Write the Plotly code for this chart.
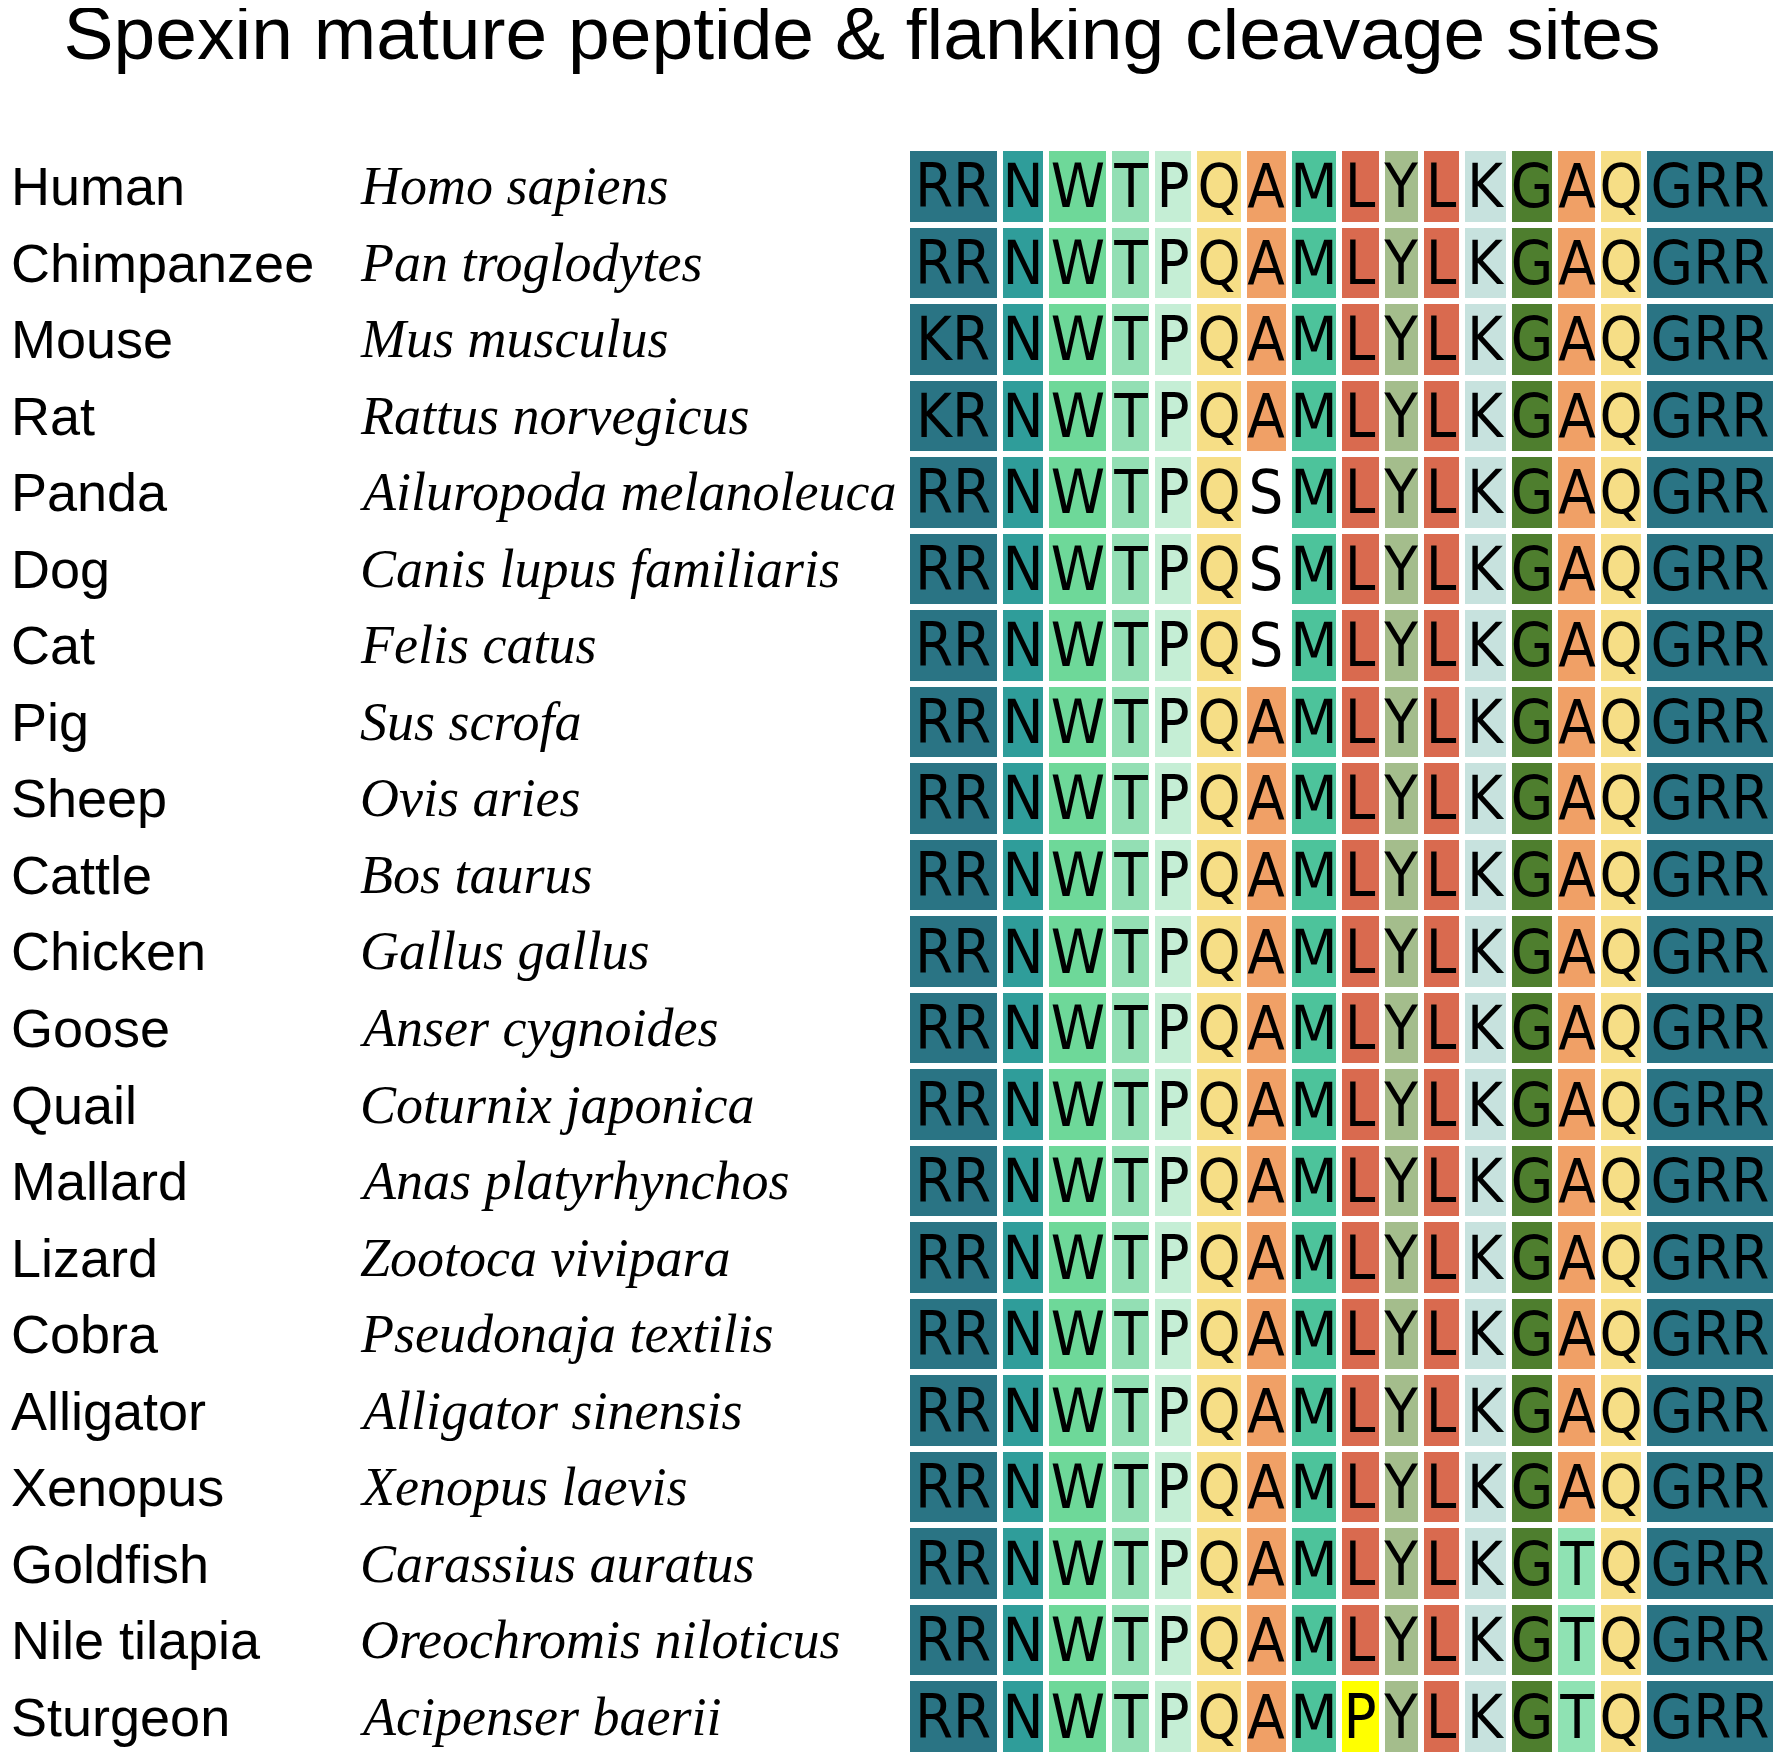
import numpy as np
import plotly.graph_objects as go

# species rows, top to bottom
COMMON = ["Human", "Chimpanzee", "Mouse", "Rat", "Panda", "Dog", "Cat", "Pig",
          "Sheep", "Cattle", "Chicken", "Goose", "Quail", "Mallard", "Lizard",
          "Cobra", "Alligator", "Xenopus", "Goldfish", "Nile tilapia", "Sturgeon"]
SCIENTIFIC = ["Homo sapiens", "Pan troglodytes", "Mus musculus", "Rattus norvegicus",
              "Ailuropoda melanoleuca", "Canis lupus familiaris", "Felis catus",
              "Sus scrofa", "Ovis aries", "Bos taurus", "Gallus gallus",
              "Anser cygnoides", "Coturnix japonica", "Anas platyrhynchos",
              "Zootoca vivipara", "Pseudonaja textilis", "Alligator sinensis",
              "Xenopus laevis", "Carassius auratus", "Oreochromis niloticus",
              "Acipenser baerii"]
N_FLANK = ["RR", "RR", "KR", "KR", "RR", "RR", "RR", "RR", "RR", "RR", "RR",
           "RR", "RR", "RR", "RR", "RR", "RR", "RR", "RR", "RR", "RR"]
CORE = ["NWTPQAMLYLKGAQ", "NWTPQAMLYLKGAQ", "NWTPQAMLYLKGAQ", "NWTPQAMLYLKGAQ",
        "NWTPQSMLYLKGAQ", "NWTPQSMLYLKGAQ", "NWTPQSMLYLKGAQ", "NWTPQAMLYLKGAQ",
        "NWTPQAMLYLKGAQ", "NWTPQAMLYLKGAQ", "NWTPQAMLYLKGAQ", "NWTPQAMLYLKGAQ",
        "NWTPQAMLYLKGAQ", "NWTPQAMLYLKGAQ", "NWTPQAMLYLKGAQ", "NWTPQAMLYLKGAQ",
        "NWTPQAMLYLKGAQ", "NWTPQAMLYLKGAQ", "NWTPQAMLYLKGTQ", "NWTPQAMLYLKGTQ",
        "NWTPQAMPYLKGTQ"]
C_FLANK = ["GRR"] * 21

# colours
FLANK_COLOR = "#2a7484"
COLUMN_COLORS = ["#2f9d9a", "#6ed899", "#93dfb4", "#c5eed5", "#f6de86", "#f0a066",
                 "#4dc39b", "#d96a4f", "#a4bd8c", "#d96a4f", "#c7e2de", "#4e7e2e",
                 "#f0a066", "#f6de86"]
SUB_COLORS = {"S": "#ffffff", "T": "#8fe2b3", "P": "#ffff00"}

# cell widths in px (gap included), left to right
COL_WIDTHS = [92.5, 46.5, 63, 43, 41.5, 50.5, 44.5, 50, 43.5, 38.5, 41, 47.5, 46,
              43, 45.5, 132.5]

# page has an 8px body margin, so draw in reference px shifted by it
PAGE_W, PAGE_H, OFF = 1784, 1763, 8
W, H = PAGE_W - 2 * OFF, PAGE_H - 2 * OFF
GRID_LEFT = 907 - OFF
GRID_RIGHT = min(GRID_LEFT + sum(COL_WIDTHS), W)
GRID_TOP, GRID_BOTTOM = 148 - OFF, min(1759 - OFF, H)

consensus = CORE[0]
palette = [FLANK_COLOR] + COLUMN_COLORS + list(SUB_COLORS.values())
sub_index = {k: 1 + len(COLUMN_COLORS) + i for i, k in enumerate(SUB_COLORS)}

z, text = [], []
for nf, core, cf in zip(N_FLANK, CORE, C_FLANK):
    zr, tr = [0], [nf]
    for j, aa in enumerate(core):
        zr.append(j + 1 if aa == consensus[j] else sub_index[aa])
        tr.append(aa)
    zr.append(0)
    tr.append(cf)
    z.append([v + 0.5 for v in zr])
    text.append(tr)

n = len(palette)
colorscale = []
for i, c in enumerate(palette):
    colorscale.append([i / n, c])
    colorscale.append([(i + 1) / n, c])

x_edges = np.concatenate([[0], np.cumsum(COL_WIDTHS)])
y_edges = np.arange(len(COMMON) + 1)

fig = go.Figure(go.Heatmap(
    z=z, x=x_edges, y=y_edges, text=text, texttemplate="%{text}",
    textfont=dict(family="DejaVu Sans Condensed, Liberation Sans Narrow", size=61,
                  color="black"),
    colorscale=colorscale, zmin=0, zmax=n, showscale=False,
    xgap=6, ygap=6, hoverinfo="skip",
))

for i, (cn, sn) in enumerate(zip(COMMON, SCIENTIFIC)):
    fig.add_annotation(x=(9 - OFF) / W, xref="paper", y=i + 0.5, yref="y", text=cn,
                       xanchor="left", yanchor="middle", showarrow=False,
                       font=dict(family="Liberation Sans, Arial", size=54, color="black"))
    fig.add_annotation(x=(358 - OFF) / W, xref="paper", y=i + 0.5, yref="y",
                       text="<i>" + sn + "</i>", xanchor="left", yanchor="middle",
                       showarrow=False,
                       font=dict(family="Liberation Serif, Times New Roman", size=54,
                                 color="black"))

fig.update_layout(
    width=W, height=H, margin=dict(l=0, r=0, t=0, b=0),
    plot_bgcolor="white", paper_bgcolor="white",
    title=dict(text="Spexin mature peptide & flanking cleavage sites",
               x=(862 - OFF) / W, xanchor="center", y=1 - (33 - OFF) / H,
               yanchor="middle",
               font=dict(family="Liberation Sans, Arial", size=75, color="black")),
    xaxis=dict(domain=[GRID_LEFT / W, GRID_RIGHT / W], range=[0, x_edges[-1]],
               visible=False, fixedrange=True),
    yaxis=dict(domain=[1 - GRID_BOTTOM / H, 1 - GRID_TOP / H],
               range=[len(COMMON), 0], visible=False, fixedrange=True),
)

fig.write_html("out.html")
